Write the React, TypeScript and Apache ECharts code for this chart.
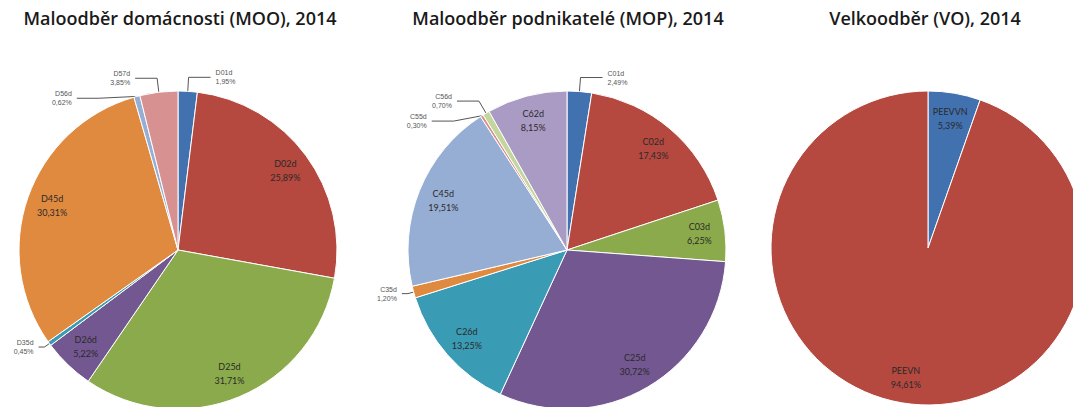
import React, { useEffect, useRef } from "react";
import * as echarts from "echarts";

const mooNames = ["D01d", "D02d", "D25d", "D26d", "D35d", "D45d", "D56d", "D57d"];
const mooValues = [1.95, 25.89, 31.71, 5.22, 0.45, 30.31, 0.62, 3.85];
const mopNames = ["C01d", "C02d", "C03d", "C25d", "C26d", "C35d", "C45d", "C55d", "C56d", "C62d"];
const mopValues = [2.49, 17.43, 6.25, 30.72, 13.25, 1.2, 19.51, 0.3, 0.7, 8.15];
const voNames = ["PEEVVN", "PEEVN"];
const voValues = [5.39, 94.61];

const titles = ["Maloodběr domácnosti (MOO), 2014", "Maloodběr podnikatelé (MOP), 2014", "Velkoodběr (VO), 2014"];

const palette = ["#4271B0", "#B5483F", "#8BAA4B", "#735791", "#3A9BB4", "#E08A3F", "#97AED4", "#D69190", "#C3D69B", "#AA9BC4"];

const fmt = (v: number) => v.toFixed(2).replace(".", ",") + "%";

function buildPie(names: string[], values: number[], center: number[], r: number) {
  const small = 4;
  const main = {
    type: "pie",
    center,
    radius: [0, r],
    startAngle: 90,
    clockwise: true,
    silent: true,
    avoidLabelOverlap: true,
    itemStyle: { borderColor: "#ffffff", borderWidth: 1 },
    labelLine: { length: 14, length2: 22, lineStyle: { color: "#555", width: 1 } },
    data: names.map((n, i) => {
      const isSmall = values[i] < small;
      const lowLeft = isSmall && i > 0 && i < 6;
      return {
        name: n,
        value: values[i],
        itemStyle: { color: palette[i] },
        label: isSmall
          ? { show: true, position: "outside", fontSize: 7, color: "#555", lineHeight: 9, formatter: () => n + "\n" + fmt(values[i]) }
          : { show: false },
        labelLine: lowLeft ? { show: true, length: 6, length2: 6 } : { show: isSmall },
      };
    }),
  };
  const lab = {
    type: "pie",
    center,
    radius: [r * 0.64, r],
    startAngle: 90,
    clockwise: true,
    silent: true,
    itemStyle: { color: "rgba(0,0,0,0)", borderWidth: 0 },
    labelLine: { show: false },
    data: names.map((n, i) => ({
      name: n,
      value: values[i],
      label:
        values[i] >= small
          ? {
              show: true,
              position: "inside",
              fontSize: 9,
              lineHeight: 14,
              color: "#2a2a2a",
              fontFamily: "Lato",
              formatter: () => n + "\n" + fmt(values[i]),
            }
          : { show: false },
    })),
  };
  return [main, lab];
}

export default function App() {
  const ref = useRef<HTMLDivElement>(null);
  useEffect(() => {
    document.body.style.margin = "0";
    if (!ref.current) return;
    const chart = echarts.init(ref.current, undefined, { renderer: "svg" });
    const titleX = [180, 568, 925];
    chart.setOption({
      animation: false,
      backgroundColor: "#ffffff",
      graphic: titles.map((t, i) => ({
        type: "text",
        x: titleX[i],
        y: 9,
        style: {
          text: t,
          textAlign: "center",
          fill: "#1a1a1a",
          font: "600 18px 'Open Sans'",
        },
      })),
      series: [
        ...buildPie(mooNames, mooValues, [178, 250], 159),
        ...buildPie(mopNames, mopValues, [567, 250], 159),
        ...buildPie(voNames, voValues, [928, 248], 157),
      ],
    });
    return () => chart.dispose();
  }, []);
  return <div ref={ref} style={{ width: 1073, height: 407 }} />;
}
